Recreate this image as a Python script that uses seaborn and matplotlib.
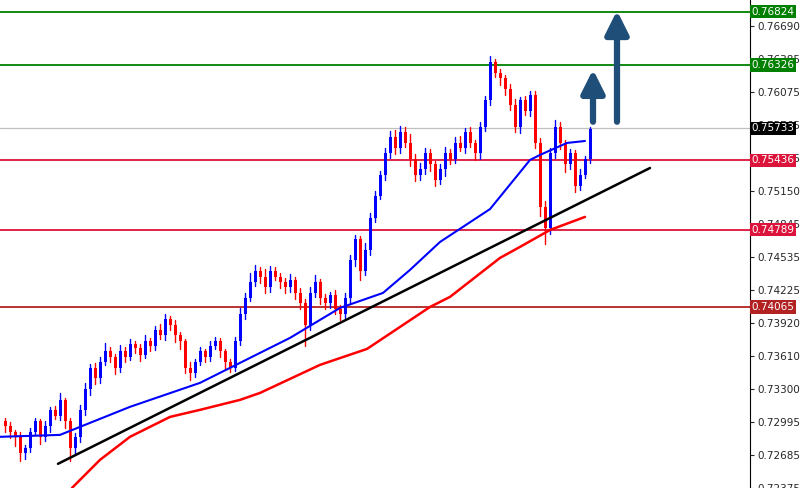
import numpy as np
import pandas as pd
import matplotlib
matplotlib.use("Agg")
import matplotlib.pyplot as plt
import seaborn as sns

closes = [0.7295,0.7290,0.7285,0.7270,0.7275,0.7290,0.7300,0.7285,0.7295,0.7310,0.7305,0.7320,
          0.7300,0.7275,0.7285,0.7310,0.7330,0.7350,0.7340,0.7355,0.7365,0.7360,
          0.7350,0.7365,0.7360,0.7372,0.7368,0.7362,0.7375,0.7370,0.7385,0.7380,0.7395,0.7390,
          0.7380,0.7375,0.7350,0.7345,0.7355,0.7365,0.7360,0.7370,0.7375,0.7365,0.7355,0.7350,
          0.7375,0.7400,0.7415,0.7430,0.7440,0.7435,
          0.7425,0.7440,0.7435,0.7430,0.7425,0.7432,0.7420,0.7410,
          0.7390,0.7420,0.7430,0.7415,0.7410,0.7418,0.7405,0.7400,0.7415,
          0.7450,0.7470,0.7440,0.7460,0.7490,0.7510,0.7530,0.7550,0.7565,
          0.7555,0.7570,0.7560,0.7545,0.7530,0.7535,0.7550,0.7540,0.7525,0.7535,0.7550,0.7545,0.7560,0.7555,0.7570,0.7560,0.7550,0.7575,
          0.7600,0.7635,0.7625,0.7620,0.7610,0.7595,0.7575,0.7600,0.7590,0.7605,
          0.7560,0.7500,0.7480,0.7550,0.7575,0.7560,0.7540,0.7550,0.7520,0.7530,0.7545,0.7573]
first_open = 0.7300
wick_up = [3,4,2,5,3,4,3,2,5,3,4,6, 2,3,4,5,6,3,4,5,8,4, 3,6,4,5,3,4,5,3,4,6,5,3,
           4,3,2,5,3,4,2,5,4,3,2,3, 4,6,5,8,6,4, 7,5,4,3,4,5,3,4, 4,5,6,3,4,3,4,3,5,
           5,4,3,6,4,5,4,5,6, 7,6,5,8,4,6,5,4,3,5,6,4,5,6,4,5,3,4, 4,6,3,4,3,5,6,3,4,3,
           3,4,6,5,6,4,3,4,3,5,3,2]
wick_dn = [5,6,8,7,5,4,3,6,4,5,3,4, 6,12,7,5,4,6,5,4,3,5, 6,4,5,3,4,6,3,5,4,3,4,5,
           6,8,5,7,4,3,5,4,3,5,6,4, 3,4,5,3,4,6, 5,4,3,6,5,4,6,5, 20,5,4,6,5,4,5,6,4,
           6,5,8,4,5,4,3,5,4, 6,5,4,7,6,5,4,6,5,4,6,5,4,3,5,4,6,5, 4,5,4,6,5,4,5,6,4,5,
           5,8,15,5,4,6,7,5,6,4,3,4]

blue_idx = [-1,11,25,39,51,57,67,75.6,81,87,97,105,107,112.4,116]
blue_val = [0.72853,0.72871,0.73133,0.73357,0.73637,0.73777,0.74057,0.74197,0.74412,
            0.74673,0.74980,0.75439,0.75486,0.75598,0.75616]
red_idx = [13.4,19,25,33,39,47,51,63,72.4,85,89,99,103,109,116]
red_val = [0.72376,0.72638,0.72853,0.73039,0.73105,0.73198,0.73263,0.73525,0.73674,
           0.74066,0.74160,0.74524,0.74627,0.74785,0.74907]
trend_idx = [10.6,129]
trend_val = [0.72601,0.75364]

levels = [0.76824,0.76326,0.75733,0.75436,0.74789,0.74065]
level_colors = ["#008000","#008000","#c0c0c0","#dc143c","#dc143c","#b22222"]
label_bg = ["#008000","#008000","#000000","#dc143c","#dc143c","#b22222"]
ticks = [0.76690,0.76385,0.76075,0.75765,0.75455,0.75150,0.74845,0.74535,0.74225,
         0.73920,0.73610,0.73300,0.72995,0.72685,0.72375]

sns.set_style("white")
plt.rcParams['font.family'] = ['DejaVu Sans']
fig = plt.figure(figsize=(8.01,4.88), dpi=100)
ax = fig.add_axes([0,0,750/801,1])
ax.set_xlim(-1,149)
ax.set_ylim(0.72376,0.76933)

opens = [first_open] + closes[:-1]
for i,(o,c,wu,wd) in enumerate(zip(opens,closes,wick_up,wick_dn)):
    col = "#0000ff" if c >= o else "#ff0000"
    hi = max(o,c)+wu*1e-4; lo = min(o,c)-wd*1e-4
    ax.plot([i,i],[lo,hi],color=col,lw=1,zorder=3)
    h = abs(c-o) if abs(c-o)>0.00003 else 0.00003
    ax.bar(i, h, bottom=min(o,c), width=0.6, color=col, zorder=4, linewidth=0)

for lv,lc in zip(levels,level_colors):
    ax.axhline(lv,color=lc,lw=1.3 if lc!="#c0c0c0" else 0.9,zorder=2)

sns.lineplot(x=blue_idx,y=blue_val,color="#0000ff",lw=1.5,ax=ax,zorder=5)
sns.lineplot(x=red_idx,y=red_val,color="#ff0000",lw=1.8,ax=ax,zorder=5)
sns.lineplot(x=trend_idx,y=trend_val,color="black",lw=1.8,ax=ax,zorder=6)

arrow_col = "#1f4e79"
for xi,y0,y1 in [(117.6,0.7577,0.7631),(122.4,0.7577,0.7686)]:
    ax.annotate("",xy=(xi,y1),xytext=(xi,y0),
                arrowprops=dict(arrowstyle="-|>,head_width=0.7,head_length=1.4",color=arrow_col,lw=4.5),zorder=7)

ax.yaxis.tick_right()
ax.set_yticks(ticks)
ax.set_yticklabels([f"{t:.5f}" for t in ticks],fontsize=7.5)
ax.tick_params(axis='y',length=3,pad=2,direction='out',right=True)
ax.set_xticks([])
for s in ["top","left","bottom"]:
    ax.spines[s].set_visible(False)
ax.spines["right"].set_color("black")
for lv,bg in zip(levels,label_bg):
    ax.text(1.002,lv,f"{lv:.5f}",transform=ax.get_yaxis_transform(),fontsize=7.5,color="white",
            va="center",ha="left",zorder=10,clip_on=False,
            bbox=dict(boxstyle="square,pad=0.15",fc=bg,ec="none"))
fig.savefig("out.png",dpi=100)
